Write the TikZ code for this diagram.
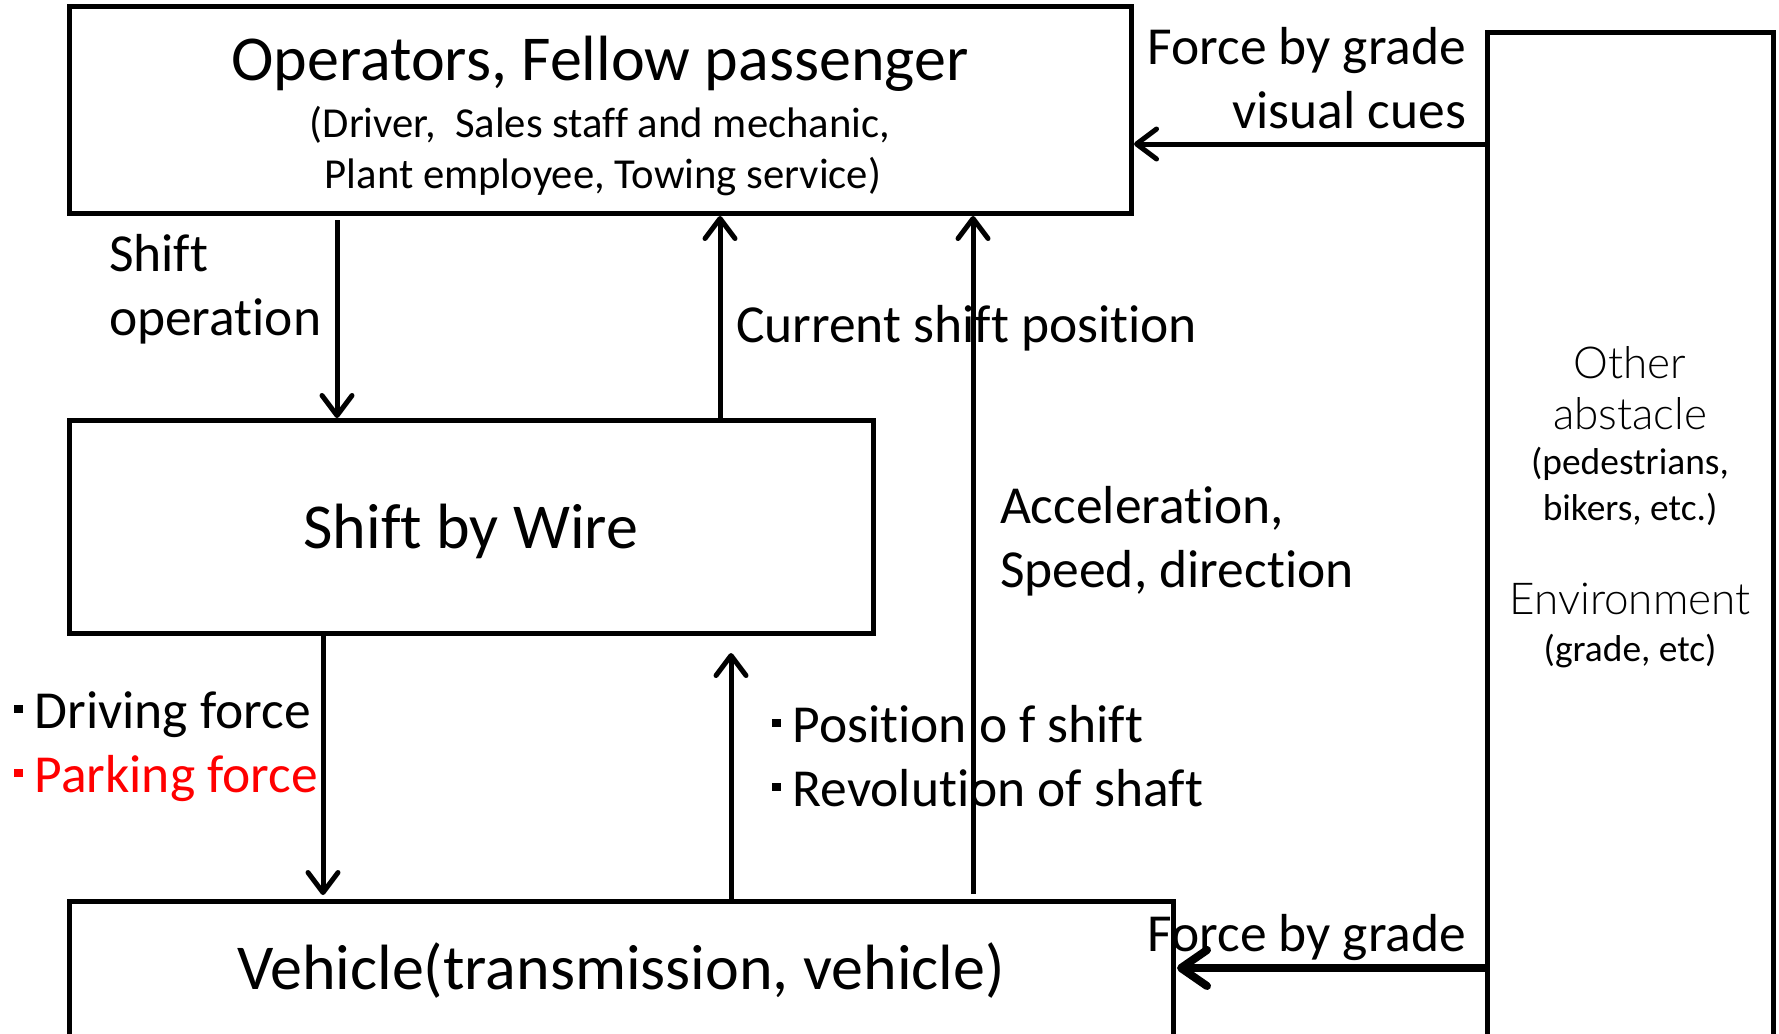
\documentclass[tikz,border=0pt]{standalone}
\usepackage{fontspec}
\setmainfont{Carlito}[Ligatures={NoCommon}]
\IfFontExistsTF{Lato Light}
  {\newfontfamily\lightfont{Lato Light}[Ligatures={NoCommon}]}
  {\newfontfamily\lightfont{Carlito}[Ligatures={NoCommon}]}
\usetikzlibrary{arrows.meta}

\definecolor{pkred}{RGB}{255,0,0}
% small square bullet used in the label lists
\newcommand{\sqbul}{\rule[15pt]{8.5pt}{8.5pt}\hspace{12pt}}

\begin{document}
\begin{tikzpicture}[x=1pt,y=-1pt,
  box/.style={draw, line width=5pt, outer sep=0pt, inner sep=0pt, rectangle},
  flow/.style={line width=5pt, -{Straight Barb[length=20pt,width=30pt,round]}},
  heavy/.style={line width=8pt, -{Straight Barb[length=26pt,width=36pt,round]}},
  txt/.style={inner sep=0pt, outer sep=0pt},
  big/.style={txt, font=\fontsize{64}{70}\selectfont},
  mid/.style={txt, font=\fontsize{53.5}{60}\selectfont},
  sub/.style={txt, font=\fontsize{42.7}{48}\selectfont},
  small/.style={txt, font=\fontsize{37.4}{42}\selectfont},
  thin/.style={txt, font=\lightfont\fontsize{44}{50}\selectfont},
]
\useasboundingbox (0,0) rectangle (1779,1033);
\clip (0,0) rectangle (1779,1033);
\fill[white] (0,0) rectangle (1779,1033);

% blocks
\node[box, minimum width=1062pt, minimum height=206pt] (ops) at (600,110) {};
\node[box, minimum width=804pt, minimum height=213pt] (sbw) at (471,526.5) {};
\node[box, minimum width=1104pt, minimum height=150pt] (veh) at (621,976) {};
\node[box, minimum width=286pt, minimum height=1020pt] (env) at (1630,543) {};

% block texts
\node[big, anchor=base] (opsT) at (600,80) {Operators, Fellow passenger};
\node[sub, anchor=base] (opsA) at (600,137) {(Driver,\ \ Sales staff and mechanic,};
\node[sub, anchor=base] (opsB) at (603,188) {Plant employee, Towing service)};
\node[big, anchor=base] (sbwT) at (471,548) {Shift by Wire};
\node[big, anchor=base] (vehT) at (621,989) {Vehicle(transmission, vehicle)};

\node[thin, anchor=base] (envA) at (1630,378) {Other};
\node[thin, anchor=base] (envB) at (1630,429) {abstacle};
\node[small, anchor=base] (envC) at (1630,474) {(pedestrians,};
\node[small, anchor=base] (envD) at (1630,520) {bikers, etc.)};
\node[thin, anchor=base] (envE) at (1630,614) {Environment};
\node[small, anchor=base] (envF) at (1630,661) {(grade, etc)};

% connector labels
\node[mid, anchor=base west] (l1a) at (109,271) {Shift};
\node[mid, anchor=base west] (l1b) at (109,335) {operation};
\node[mid, anchor=base west] (l2) at (736,342) {Current shift position};
\node[mid, anchor=base west] (l3a) at (1000,523) {Acceleration,};
\node[mid, anchor=base west] (l3b) at (1000,587) {Speed, direction};
\node[mid, anchor=base west] (l4a) at (14,728) {\sqbul Driving force};
\node[mid, anchor=base west, text=pkred] (l4b) at (14,792) {\sqbul Parking force};
\node[mid, anchor=base west] (l5a) at (772,742) {\sqbul Position o f shift};
\node[mid, anchor=base west] (l5b) at (772,806) {\sqbul Revolution of shaft};
\node[mid, anchor=base east] (l6a) at (1466,65) {Force by grade};
\node[mid, anchor=base east] (l6b) at (1466,128) {visual cues};
\node[mid, anchor=base east] (l7) at (1466,951) {Force by grade};

% connectors
\draw[flow, shorten <=7pt, shorten >=2pt] (337,0 |- ops.south) -- (337,0 |- sbw.north);
\draw[flow, shorten >=3pt] (720,0 |- sbw.north) -- (720,0 |- ops.south);
\draw[flow, shorten <=7pt, shorten >=3pt] (973,0 |- veh.north) -- (973,0 |- ops.south);
\draw[flow, shorten >=6pt] (323,0 |- sbw.south) -- (323,0 |- veh.north);
\draw[flow, shorten >=20pt] (731,0 |- veh.north) -- (731,0 |- sbw.south);
\draw[flow, shorten >=3pt] (env.west |- 0,144) -- (ops.east |- 0,144);
\draw[heavy, shorten >=4pt] (env.west |- 0,968) -- (veh.east |- 0,968);
\end{tikzpicture}
\end{document}
